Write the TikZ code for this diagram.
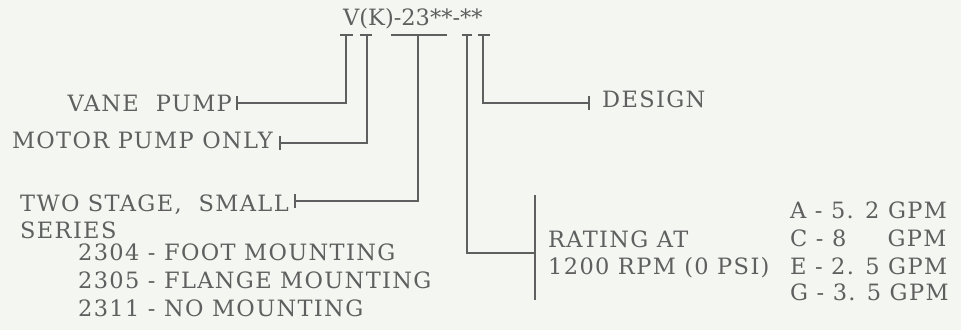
\documentclass[tikz,border=0pt]{standalone}
\usepackage{fontspec}
\setmainfont{DejaVu Serif}[LetterSpace=6]
\definecolor{ink}{RGB}{95,95,95}
\definecolor{paper}{RGB}{244,246,241}
\begin{document}
\begin{tikzpicture}[x=1pt,y=-1pt,
  lbl/.style={inner sep=0pt, text=ink, font=\fontsize{22.5}{26}\selectfont},
  ln/.style={draw=ink, line width=1.2pt},
  tick/.style={draw=ink, line width=1.2pt}]
\fill[paper] (0,0) rectangle (961,330);
\useasboundingbox (0,0) rectangle (961,330);
% title
\node[lbl, anchor=base west, font=\fontsize{22.5}{26}\selectfont\addfontfeature{LetterSpace=0}] (title) at (343,25) {V(K)-23**-**};
% labels
\node[lbl, anchor=base east] (vane) at (232,111) {VANE\ \ PUMP};
\node[lbl, anchor=base east] (motor) at (273,148) {MOTOR PUMP ONLY};
\node[lbl, anchor=base west] (two) at (20,211) {TWO STAGE,\ \ SMALL};
\node[lbl, anchor=base west] (series) at (20,238) {SERIES};
\node[lbl, anchor=base west] (m1) at (78,260) {2304 - FOOT MOUNTING};
\node[lbl, anchor=base west] (m2) at (78,288) {2305 - FLANGE MOUNTING};
\node[lbl, anchor=base west] (m3) at (78,316) {2311 - NO MOUNTING};
\node[lbl, anchor=base west] (design) at (602,107) {DESIGN};
\node[lbl, anchor=base west] (rating) at (548,247) {RATING AT};
\node[lbl, anchor=base west] (rpm) at (548,274) {1200 RPM (0 PSI)};
\node[lbl, anchor=base west] (ra) at (790,218) {A - 5. 2 GPM};
\node[lbl, anchor=base west] (rc) at (790,246) {C - 8\phantom{. 2} GPM};
\node[lbl, anchor=base west] (re) at (790,274) {E - 2. 5 GPM};
\node[lbl, anchor=base west] (rg) at (790,300) {G - 3. 5 GPM};
% tick coordinates
\coordinate (t1) at (346,35);
\coordinate (t2) at (367,35);
\coordinate (t3) at (418,35);
\coordinate (t4) at (467,35);
\coordinate (t5) at (483,35);
\coordinate (e1) at (237,103);
\coordinate (e2) at (280,143);
\coordinate (e3) at (295,201);
\coordinate (e4) at (535,253);
\coordinate (e5) at (589,103);
% T tops
\draw[ln] ([xshift=-6pt]t1) -- ([xshift=7pt]t1);
\draw[ln] ([xshift=-7pt]t2) -- ([xshift=5pt]t2);
\draw[ln] ([xshift=-27pt]t3) -- ([xshift=29pt]t3);
\draw[ln] ([xshift=-5pt]t4) -- ([xshift=5pt]t4);
\draw[ln] ([xshift=-5pt]t5) -- ([xshift=7pt]t5);
% connectors
\draw[ln] (t1) |- (e1);
\draw[ln] (t2) |- (e2);
\draw[ln] (t3) |- (e3);
\draw[ln] (t4) |- (e4);
\draw[ln] (t5) |- (e5);
% end ticks
\draw[tick] ([yshift=-7pt]e1) -- ([yshift=7pt]e1);
\draw[tick] ([yshift=-7pt]e2) -- ([yshift=7pt]e2);
\draw[tick] ([yshift=-7pt]e3) -- ([yshift=7pt]e3);
\draw[tick] ([yshift=-7pt]e5) -- ([yshift=7pt]e5);
\draw[tick] (535,195) -- (535,300);
\end{tikzpicture}
\end{document}
